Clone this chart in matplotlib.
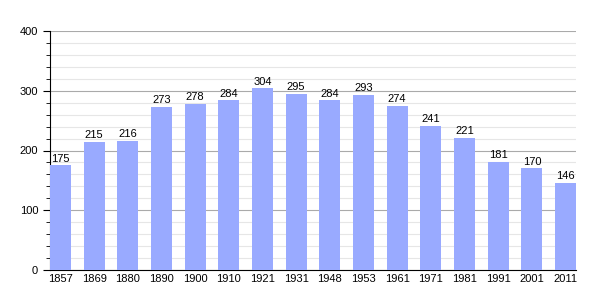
import matplotlib.pyplot as plt
from matplotlib.ticker import MultipleLocator

# Années et population
annees = ['1857', '1869', '1880', '1890', '1900', '1910', '1921', '1931',
          '1948', '1953', '1961', '1971', '1981', '1991', '2001', '2011']
population = [175, 215, 216, 273, 278, 284, 304, 295,
              284, 293, 274, 241, 221, 181, 170, 146]

plt.rcParams['font.family'] = ['Liberation Sans', 'DejaVu Sans']

fig = plt.figure(figsize=(6.05, 3.0), dpi=100)
ax = fig.add_axes([50 / 605, 30 / 300, 526 / 605, 239 / 300])

x = range(len(annees))
largeur = 0.62
ax.bar(x, population, width=largeur, color='#99aaff', zorder=3)

for i, v in enumerate(population):
    ax.text(i, v + 3, str(v), ha='center', va='bottom', fontsize=8, zorder=4)

ax.set_xlim(-largeur / 2, len(annees) - 1 + largeur / 2)
ax.set_ylim(0, 400)
ax.set_xticks(list(x))
ax.set_xticklabels(annees, fontsize=8)
ax.tick_params(axis='x', length=0, pad=3)

ax.yaxis.set_major_locator(MultipleLocator(100))
ax.yaxis.set_minor_locator(MultipleLocator(20))
ax.tick_params(axis='y', which='major', length=5, labelsize=8, direction='out')
ax.tick_params(axis='y', which='minor', length=3, direction='out')

ax.grid(axis='y', which='major', color='#aaaaaa', linewidth=0.8, zorder=0)
ax.grid(axis='y', which='minor', color='#e6e6e6', linewidth=0.8, zorder=0)

for s in ['top', 'right']:
    ax.spines[s].set_visible(False)

fig.savefig('out.png', dpi=100)
